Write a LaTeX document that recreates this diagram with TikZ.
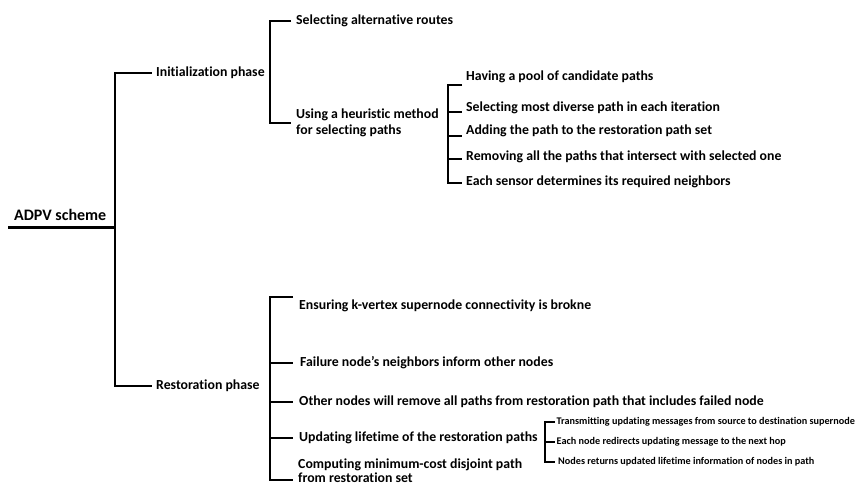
\documentclass[tikz,border=0pt]{standalone}
\usepackage{fontspec}
\setmainfont{Carlito}[Ligatures={NoCommon}]
\begin{document}
\begin{tikzpicture}[x=1pt,y=-1pt,
  link/.style={line width=2pt},
  txt/.style={anchor=west,inner xsep=4pt,inner ysep=0pt,align=left,
    font=\bfseries\fontsize{13.8}{15.5}\selectfont},
  small/.style={anchor=west,inner xsep=1.5pt,inner ysep=0pt,
    font=\bfseries\fontsize{10.2}{12}\selectfont}]
\clip (0,0) rectangle (859,486);
\useasboundingbox (0,0) rectangle (859,486);

% root
\node[anchor=base west,inner sep=0pt,font=\bfseries\fontsize{16}{19}\selectfont] (root) at (14,221) {ADPV scheme};
\coordinate (ul) at (8,228);
\coordinate (spine) at (115,228);
\draw[line width=3pt] (ul) -- (spine);

% phases
\node[txt] (init) at (152,73) {Initialization phase};
\node[txt] (rest) at (152,386) {Restoration phase};
\draw[link] (spine) |- (init.west);
\draw[link] (spine) |- (rest.west);

% initialization branch
\node[txt,inner xsep=5pt] (sel) at (291,21) {Selecting alternative routes};
\node[txt,inner xsep=5pt] (heur) at (291,123) {Using a heuristic method\\for selecting paths};
\coordinate (ib) at (270,123);
\draw[link] (sel.west) -| (ib) |- (heur.west);

% heuristic method steps
\node[txt] (h1) at (462,77) {Having a pool of candidate paths};
\node[txt] (h2) at (462,108) {Selecting most diverse path in each iteration};
\node[txt] (h3) at (462,131) {Adding the path to the restoration path set};
\node[txt] (h4) at (462,157) {Removing all the paths that intersect with selected one};
\node[txt] (h5) at (462,182) {Each sensor determines its required neighbors};
\coordinate (hb1) at (448,85);
\coordinate (hb2) at (448,112);
\coordinate (hb3) at (448,136);
\coordinate (hb4) at (448,159);
\coordinate (hb5) at (448,183);
\draw[link] (hb1 -| h1.west) -- (hb1) -- (hb5) -- (hb5 -| h5.west);
\draw[link] (hb2) -- (hb2 -| h2.west);
\draw[link] (hb3) -- (hb3 -| h3.west);
\draw[link] (hb4) -- (hb4 -| h4.west);

% restoration steps
\node[txt,inner xsep=6pt] (r1) at (293,306) {Ensuring k-vertex supernode connectivity is brokne};
\node[txt,inner xsep=7pt] (r2) at (293,363) {Failure node’s neighbors inform other nodes};
\node[txt,inner xsep=6pt] (r3) at (293,402) {Other nodes will remove all paths from restoration path that includes failed node};
\node[txt,inner xsep=6pt] (r4) at (293,438) {Updating lifetime of the restoration paths};
\node[txt,inner xsep=5pt,font=\bfseries\fontsize{13.8}{14}\selectfont] (r5) at (293,471) {Computing minimum-cost disjoint path\\from restoration set};
\coordinate (rb1) at (270,297);
\coordinate (rb5) at (270,480);
\draw[link] (rb1 -| r1.west) -- (rb1) -- (rb5) -- (rb5 -| r5.west);
\draw[link] (rb1 |- r2.west) -- (r2.west);
\draw[link] (rb1 |- r3.west) -- (r3.west);
\draw[link] (rb1 |- r4.west) -- (r4.west);

% lifetime update details
\node[small] (u1) at (555,422) {Transmitting updating messages from source to destination supernode};
\node[small] (u2) at (555,442) {Each node redirects updating message to the next hop};
\node[small,inner xsep=3pt] (u3) at (555,462) {Nodes returns updated lifetime information of nodes in path};
\coordinate (ub) at (545,442);
\draw[link] (u1.west) -| (ub) |- (u3.west);
\draw[link] (ub) -- (u2.west);
\end{tikzpicture}
\end{document}
